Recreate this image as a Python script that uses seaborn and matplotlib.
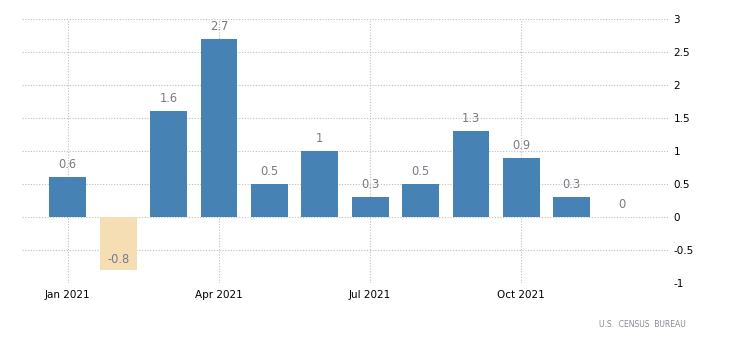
import matplotlib
matplotlib.use("Agg")
import matplotlib.pyplot as plt
import seaborn as sns
import pandas as pd

months = ["Jan", "Feb", "Mar", "Apr", "May", "Jun",
          "Jul", "Aug", "Sep", "Oct", "Nov", "Dec"]
values = [0.6, -0.8, 1.6, 2.7, 0.5, 1.0, 0.3, 0.5, 1.3, 0.9, 0.3, 0.0]
tick_positions = [0, 3, 6, 9]
tick_labels = ["Jan 2021", "Apr 2021", "Jul 2021", "Oct 2021"]
source = "U.S.  CENSUS  BUREAU"

POS_COLOR = "#4682B4"
NEG_COLOR = "#F5DEB3"

df = pd.DataFrame({"month": months, "value": values})
df["sign"] = ["neg" if v < 0 else "pos" for v in values]

sns.set_style("white")
fig = plt.figure(figsize=(7.3, 3.45), dpi=100)
ax = fig.add_axes([0.030, 0.180, 0.885, 0.765])

sns.barplot(data=df, x="month", y="value", hue="sign", order=months,
            palette={"pos": POS_COLOR, "neg": NEG_COLOR},
            dodge=False, width=0.73, legend=False, ax=ax, saturation=1,
            linewidth=0, edgecolor="none")

ax.set_xlim(-0.91, 11.91)
ax.set_ylim(-1, 3)
ax.set_yticks([-1, -0.5, 0, 0.5, 1, 1.5, 2, 2.5, 3])
ax.set_yticklabels(["-1", "-0.5", "0", "0.5", "1", "1.5", "2", "2.5", "3"])
ax.set_xticks(tick_positions)
ax.set_xticklabels(tick_labels)
ax.yaxis.tick_right()
ax.tick_params(axis="both", length=0, labelsize=7.5, colors="black")
ax.tick_params(axis="y", pad=4)
ax.tick_params(axis="x", pad=5)
ax.set_xlabel("")
ax.set_ylabel("")
for s in ax.spines.values():
    s.set_visible(False)

ax.grid(True, axis="both", linestyle=(0, (1, 1.5)), color="#bdbdbd", linewidth=0.8)
ax.set_axisbelow(True)

for i, v in enumerate(values):
    offset = 7 if v < 0 else 9
    ax.annotate(f"{v:g}", (i, v), xytext=(0, offset), textcoords="offset points",
                ha="center", va="center", fontsize=8.3, color="#7a7a85")

fig.text(0.940, 0.058, source, ha="right", va="center", fontsize=5.5, color="#8a8a95")

fig.savefig("out.png", dpi=100)
